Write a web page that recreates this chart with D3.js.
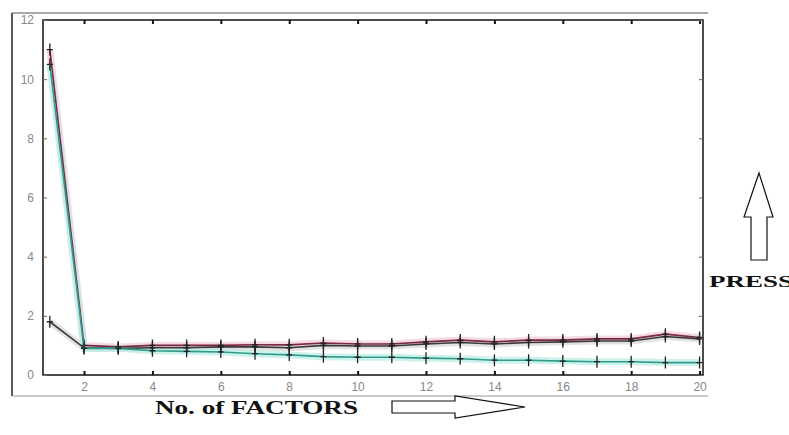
<!DOCTYPE html>
<html>
<head>
<meta charset="utf-8">
<script src="https://cdn.jsdelivr.net/npm/d3@7"></script>
<style>
  body { margin: 0; background: #fff; }
  svg { display: block; }
</style>
</head>
<body>
<svg width="789" height="435"></svg>
<script>
// No. of factors on x, PRESS on y
var factors = [1,2,3,4,5,6,7,8,9,10,11,12,13,14,15,16,17,18,19,20];
var pressRed  = [11.0,1.0,0.95,1.0,1.0,1.0,1.02,1.02,1.08,1.05,1.05,1.12,1.18,1.12,1.18,1.18,1.22,1.22,1.38,1.27];
var pressDark = [1.8,0.92,0.9,0.92,0.92,0.95,0.95,0.92,1.0,0.98,0.98,1.05,1.1,1.05,1.1,1.12,1.15,1.15,1.3,1.22];
var pressCyan = [10.5,0.9,0.9,0.82,0.8,0.78,0.72,0.68,0.62,0.6,0.6,0.57,0.55,0.5,0.5,0.47,0.45,0.45,0.42,0.42];
var xTicks = [2,4,6,8,10,12,14,16,18,20];
var yTicks = [0,2,4,6,8,10,12];

var svg = d3.select("svg");
var plotL = 43, plotR = 703, plotT = 20, plotB = 375;

var x = d3.scaleLinear().domain([0.8, 20.1]).range([plotL, plotR]);
var y = d3.scaleLinear().domain([0, 12]).range([plotB, plotT]);

// outer frame (left, top, bottom only)
svg.append("line").attr("x1", 12).attr("y1", 13).attr("x2", 12).attr("y2", 396)
  .style("stroke", "#222").style("stroke-width", 1.5);
svg.append("line").attr("x1", 12).attr("y1", 13).attr("x2", 708).attr("y2", 13)
  .style("stroke", "#555").style("stroke-width", 1.2);
svg.append("line").attr("x1", 12).attr("y1", 396).attr("x2", 708).attr("y2", 396)
  .style("stroke", "#999").style("stroke-width", 1.2);

// axes box
svg.append("rect").attr("x", plotL).attr("y", plotT)
  .attr("width", plotR - plotL).attr("height", plotB - plotT)
  .style("fill", "none").style("stroke", "#111").style("stroke-width", 1.5);

var axisStyle = function(g) {
  g.select(".domain").remove();
  g.selectAll(".tick line").style("stroke", "#111").style("stroke-width", 2);
  g.selectAll(".tick text").style("font-family", "Liberation Sans, sans-serif")
    .style("font-size", "12px").style("fill", "#888");
};

svg.append("g").attr("transform", "translate(0," + plotB + ")")
  .call(d3.axisBottom(x).tickValues(xTicks).tickSize(-4).tickPadding(7))
  .call(axisStyle);
svg.append("g").attr("transform", "translate(0," + plotT + ")")
  .call(d3.axisTop(x).tickValues(xTicks).tickSize(-4).tickFormat(""))
  .call(axisStyle);
svg.append("g").attr("transform", "translate(" + plotL + ",0)")
  .call(d3.axisLeft(y).tickValues(yTicks).tickSize(-4).tickPadding(9))
  .call(axisStyle)
  .selectAll(".tick line").style("stroke-width", 1).style("stroke", "#666");
svg.append("g").attr("transform", "translate(" + plotR + ",0)")
  .call(d3.axisRight(y).tickValues(yTicks).tickSize(-4).tickFormat(""))
  .call(axisStyle)
  .selectAll(".tick line").style("stroke-width", 1).style("stroke", "#666");

var line = d3.line().x(function(d) { return x(d[0]); }).y(function(d) { return y(d[1]); });

// cyan drawn last so the steep drop shows teal like the reference
var series = [
  {vals: pressRed,  halo: "#f4cbd8", core: "#7d2744"},
  {vals: pressDark, halo: "#d6d6d6", core: "#3a3a3a"},
  {vals: pressCyan, halo: "#b6ece3", core: "#2f9c8c"}
];

series.forEach(function(s) {
  var pts = factors.map(function(f, i) { return [f, s.vals[i]]; });
  svg.append("path").datum(pts).attr("d", line)
    .style("fill", "none").style("stroke", s.halo).style("stroke-width", 7)
    .style("opacity", 0.7);
});

series.forEach(function(s) {
  var pts = factors.map(function(f, i) { return [f, s.vals[i]]; });
  svg.append("path").datum(pts).attr("d", line)
    .style("fill", "none").style("stroke", s.core).style("stroke-width", 1.6);
  svg.append("g").selectAll("path").data(pts).enter().append("path")
    .attr("d", function(d) {
      var cx = x(d[0]), cy = y(d[1]);
      return "M" + cx + "," + (cy - 6) + "V" + (cy + 6) + "M" + (cx - 3) + "," + cy + "H" + (cx + 3);
    })
    .style("stroke", "#222").style("stroke-width", 1.3);
});

// PRESS arrow (up)
svg.append("path")
  .attr("d", "M759,173 L773,217 L767,217 L767,260 L751,260 L751,217 L744,217 Z")
  .style("fill", "#fff").style("stroke", "#111").style("stroke-width", 1.2);
svg.append("text").attr("x", 709).attr("y", 287).text("PRESS")
  .attr("textLength", 84).attr("lengthAdjust", "spacingAndGlyphs")
  .style("font-family", "Liberation Serif, serif").style("font-weight", "bold")
  .style("font-size", "17px").style("fill", "#111");

// No. of FACTORS arrow (right)
svg.append("text").attr("x", 155).attr("y", 414).text("No. of FACTORS")
  .attr("textLength", 203).attr("lengthAdjust", "spacingAndGlyphs")
  .style("font-family", "Liberation Serif, serif").style("font-weight", "bold")
  .style("font-size", "19px").style("fill", "#111");
svg.append("path")
  .attr("d", "M392,401 L455,401 L455,396 L525,407 L455,418 L455,413 L392,413 Z")
  .style("fill", "#fff").style("stroke", "#111").style("stroke-width", 1.2);
</script>
</body>
</html>
